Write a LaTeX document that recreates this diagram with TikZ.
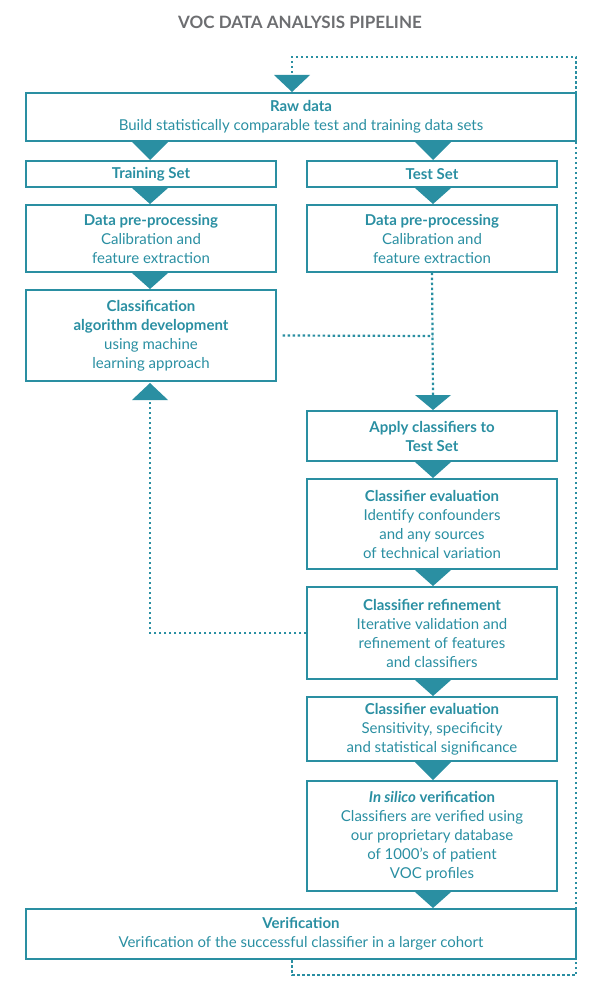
\documentclass[tikz,border=0pt]{standalone}
\usepackage{fontspec}
\setmainfont{Lato}
\begin{document}
\definecolor{tl}{HTML}{2A8FA2}
\definecolor{tg}{HTML}{6D6E71}
\begin{tikzpicture}[x=1pt,y=-1pt,
 box/.style={draw=tl,line width=1.4pt,text=tl,align=center,font=\fontsize{15}{19}\selectfont,inner sep=0pt},
 dot/.style={draw=tl,line width=2.2pt,dash pattern=on 2.5pt off 2.5pt},
 tri/.style={fill=tl}]
\useasboundingbox (0,0) rectangle (600,995);
\node[text=tg,font=\fontsize{17}{20}\selectfont\bfseries] (title) at (300,22) {VOC DATA ANALYSIS PIPELINE};
\newcommand\bx[6]{\node[box,minimum width=#3-#2,minimum height=#5-#4] (#1) at ({(#2+#3)/2},{(#4+#5)/2}) {#6};}
\bx{raw}{26}{576}{93}{141}{\textbf{Raw data}\\Build statistically comparable test and training data sets}
\bx{trs}{26}{276}{161}{187}{\textbf{Training Set}}
\bx{tes}{307}{557}{161}{187}{\textbf{Test Set}}
\bx{dpl}{26}{276}{205}{272}{\textbf{Data pre-processing}\\Calibration and\\feature extraction}
\bx{dpr}{307}{557}{205}{272}{\textbf{Data pre-processing}\\Calibration and\\feature extraction}
\bx{cla}{26}{276}{290}{381}{\textbf{Classification}\\\textbf{algorithm development}\\using machine\\learning approach}
\bx{app}{307}{557}{411}{461}{\textbf{Apply classifiers to}\\\textbf{Test Set}}
\bx{ev1}{307}{557}{479}{569}{\textbf{Classifier evaluation}\\Identify confounders\\and any sources\\of technical variation}
\bx{ref}{307}{557}{587}{679}{\textbf{Classifier refinement}\\Iterative validation and\\refinement of features\\and classifiers}
\bx{ev2}{307}{557}{697}{761}{\textbf{Classifier evaluation}\\Sensitivity, specificity\\and statistical significance}
\bx{sil}{307}{557}{781}{891}{\textbf{\textit{In silico} verification}\\Classifiers are verified using\\our proprietary database\\of 1000’s of patient\\VOC profiles}
\bx{ver}{26}{576}{909}{959}{\textbf{Verification}\\Verification of the successful classifier in a larger cohort}
\newcommand\dn[3]{\fill[tl] (#1-18,#2) -- (#1+18,#2) -- (#1,#3) -- cycle;}
\dn{150}{142}{160}\dn{433}{142}{160}
\dn{150}{188}{204}\dn{433}{188}{204}
\dn{150}{273}{289}
\dn{433}{395}{410}
\dn{433}{462}{478}\dn{433}{570}{586}\dn{433}{680}{696}\dn{433}{762}{780}\dn{433}{892}{908}
\dn{292}{75}{92}
\fill[tl] (132,400) -- (168,400) -- (150,383) -- cycle;
\coordinate (c1) at (433,336);
\draw[dot] (dpr.south) -- (433,395);
\draw[dot] (cla.east) ++(6,0) -- (c1);
\draw[dot] (ref.west) -- (150,633) -- (150,400);
\draw[dot] (292,960) -- (292,975) -- (576,975) -- (576,57) -- (292,57) -- (292,75);
\end{tikzpicture}
\end{document}
